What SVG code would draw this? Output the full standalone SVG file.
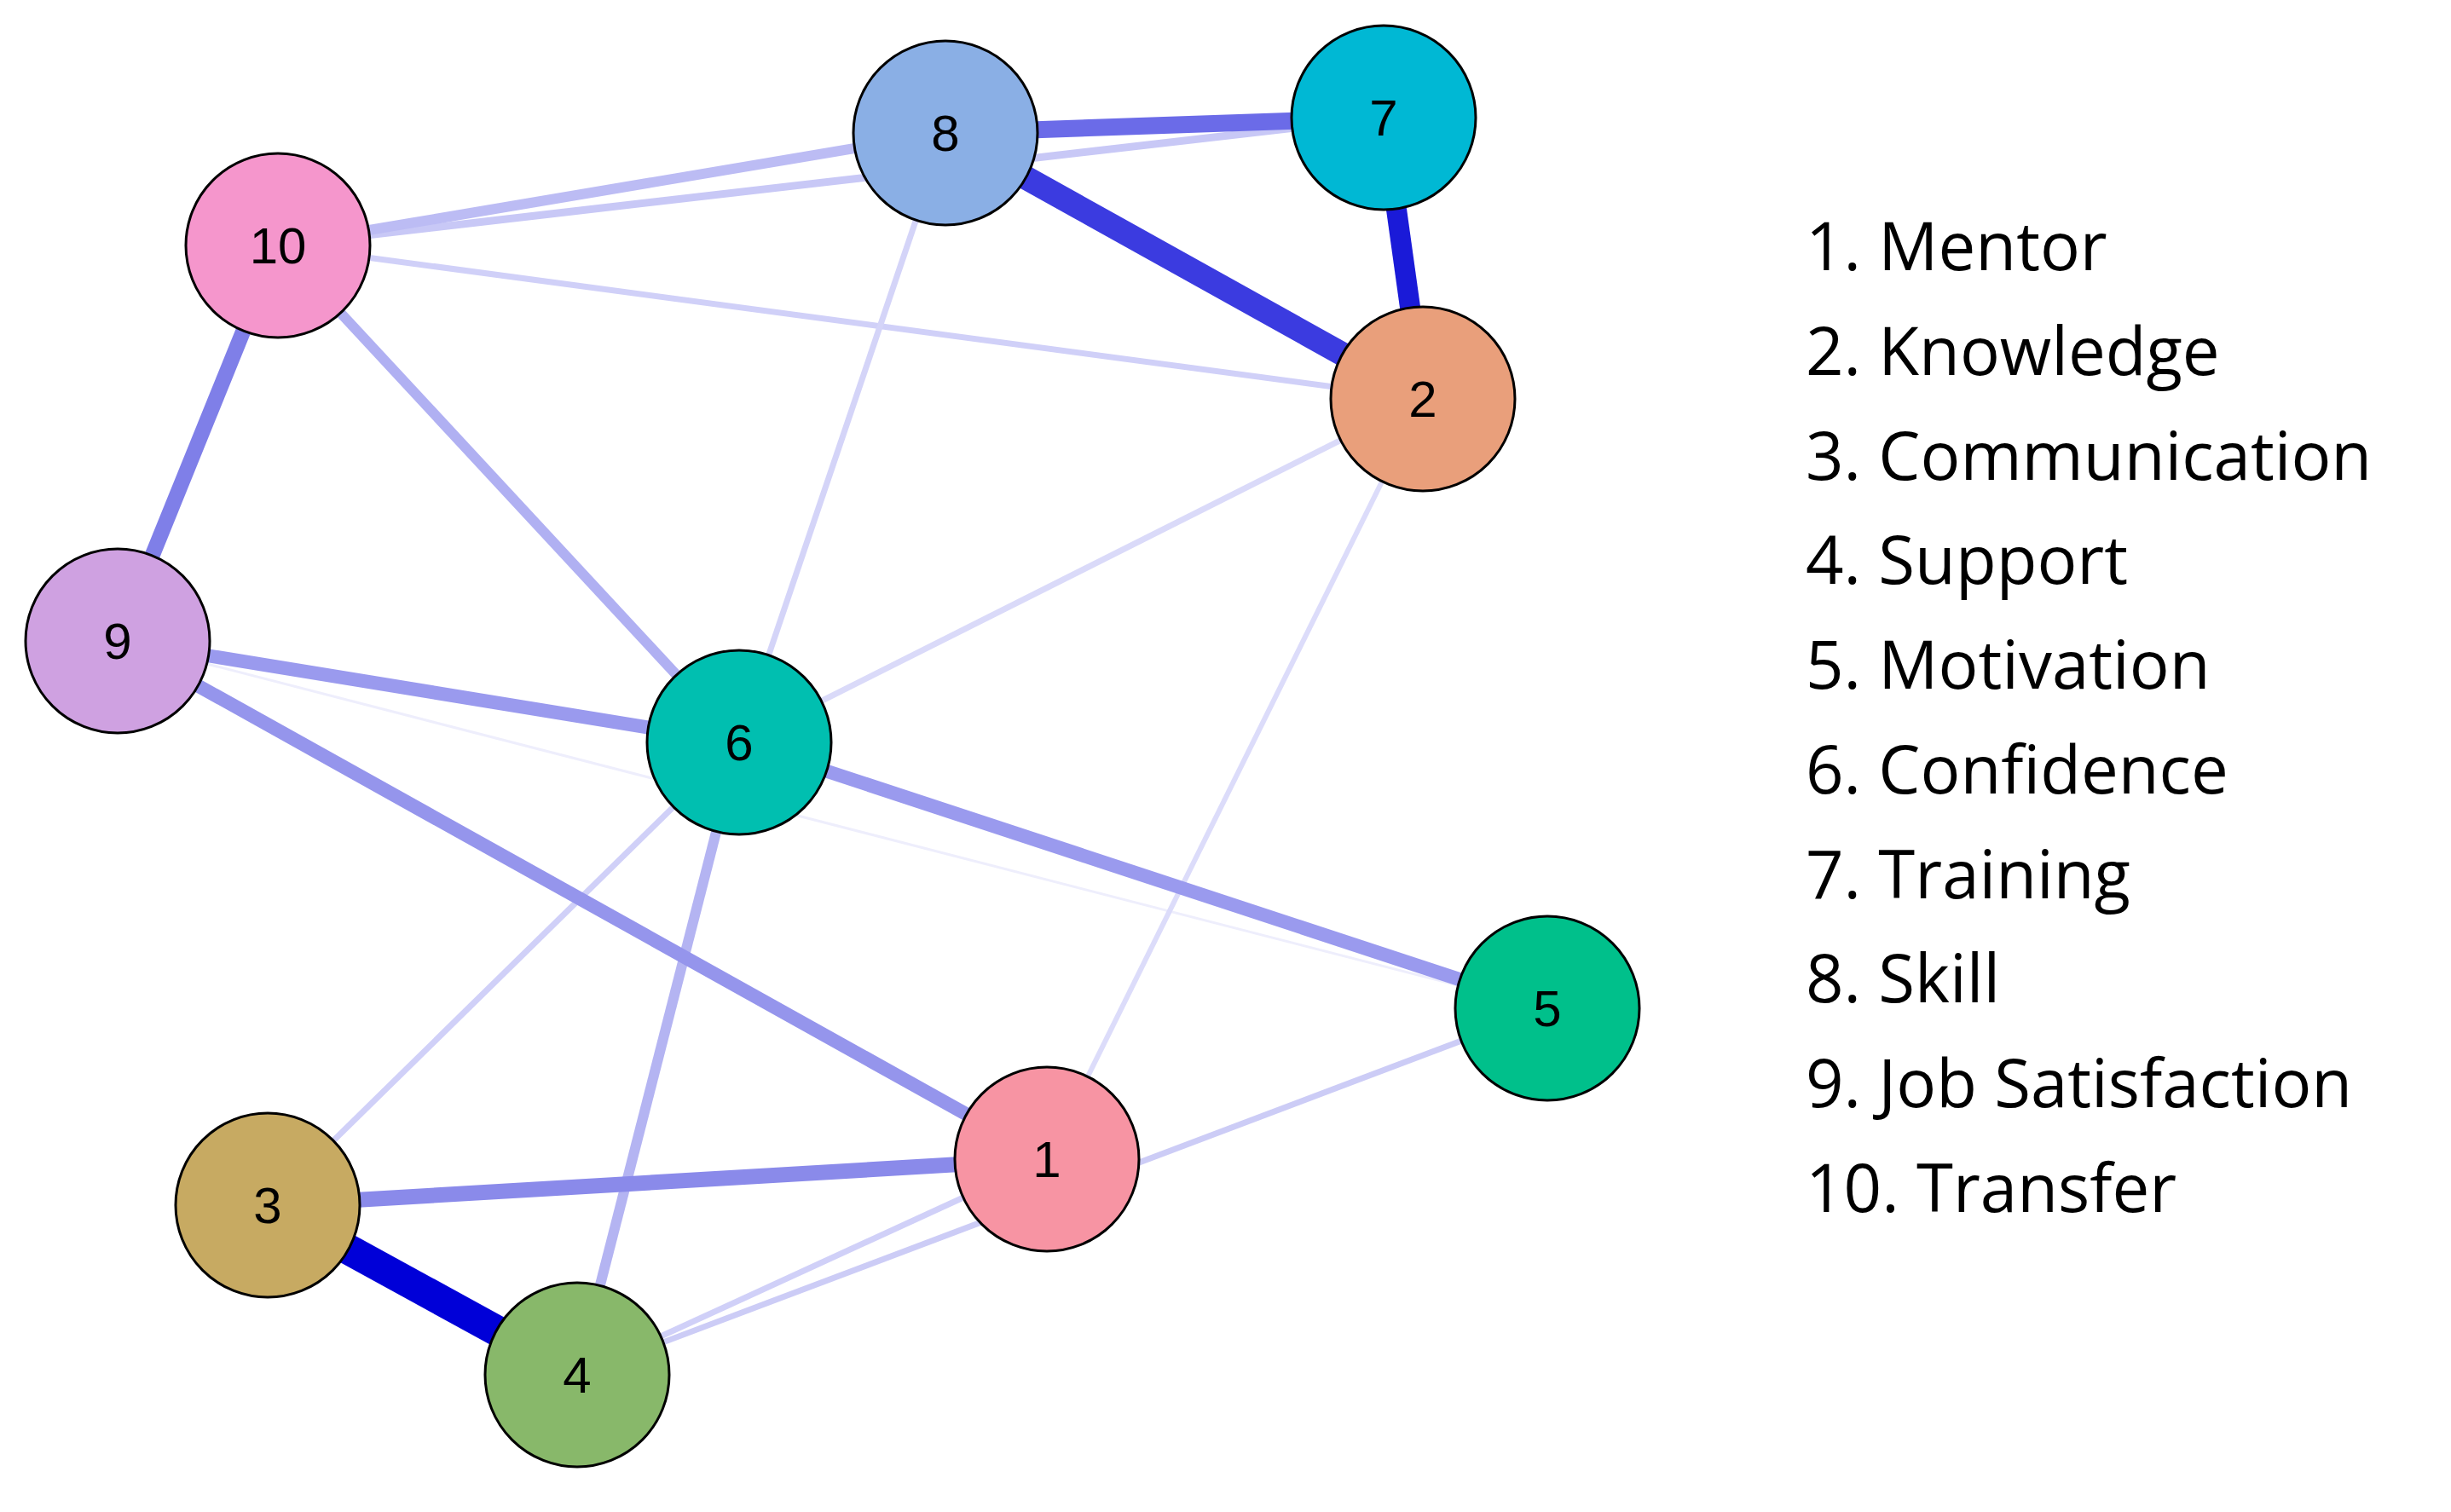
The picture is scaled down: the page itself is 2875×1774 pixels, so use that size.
<svg xmlns="http://www.w3.org/2000/svg" width="2875" height="1774" viewBox="0 0 2875 1774">
<style>
.n circle{stroke:#000;stroke-width:3}
.n text{font-family:"Liberation Sans",Arial,sans-serif;font-size:60px;text-anchor:middle;dominant-baseline:central;fill:#000}
.lg{font-family:"Open Sans","Noto Sans",sans-serif;font-size:78px;fill:#000}
#edges line{stroke-linecap:butt}
</style>
<rect width="2875" height="1774" fill="#fff"/>
<g id="edges">
<line x1="138" y1="752" x2="1815" y2="1183" stroke="#eeeefc" stroke-width="3"/>
<line x1="326" y1="288" x2="1669" y2="468" stroke="#d0d0f8" stroke-width="7"/>
<line x1="326" y1="288" x2="1623" y2="138" stroke="#c8c8f6" stroke-width="9"/>
<line x1="326" y1="288" x2="1109" y2="156" stroke="#bcbcf4" stroke-width="12"/>
<line x1="1109" y1="156" x2="867" y2="871" stroke="#d4d4f8" stroke-width="7"/>
<line x1="867" y1="871" x2="1669" y2="468" stroke="#dadaf9" stroke-width="7"/>
<line x1="1669" y1="468" x2="1228" y2="1360" stroke="#dcdcfa" stroke-width="6"/>
<line x1="867" y1="871" x2="314" y2="1414" stroke="#d0d0f8" stroke-width="7"/>
<line x1="677" y1="1613" x2="1228" y2="1360" stroke="#d0d0f8" stroke-width="7"/>
<line x1="677" y1="1613" x2="1815" y2="1183" stroke="#ccccf6" stroke-width="7"/>
<line x1="326" y1="288" x2="867" y2="871" stroke="#b0b0f2" stroke-width="12"/>
<line x1="867" y1="871" x2="677" y2="1613" stroke="#b4b4f2" stroke-width="12"/>
<line x1="138" y1="752" x2="867" y2="871" stroke="#9a9aee" stroke-width="16"/>
<line x1="138" y1="752" x2="1228" y2="1360" stroke="#9595ec" stroke-width="16"/>
<line x1="867" y1="871" x2="1815" y2="1183" stroke="#9a9aee" stroke-width="16"/>
<line x1="314" y1="1414" x2="1228" y2="1360" stroke="#8a8aea" stroke-width="18"/>
<line x1="326" y1="288" x2="138" y2="752" stroke="#7f7fe8" stroke-width="18"/>
<line x1="1109" y1="156" x2="1623" y2="138" stroke="#6b6be8" stroke-width="20"/>
<line x1="1109" y1="156" x2="1669" y2="468" stroke="#3b3be0" stroke-width="28"/>
<line x1="1623" y1="138" x2="1669" y2="468" stroke="#1a1ad8" stroke-width="24"/>
<line x1="314" y1="1414" x2="677" y2="1613" stroke="#0000d8" stroke-width="36"/>
</g>
<g id="node8" class="n"><circle cx="1109" cy="156" r="108" fill="#8aafe5"/><text x="1109" y="156">8</text></g>
<g id="node7" class="n"><circle cx="1623" cy="138" r="108" fill="#00b8d4"/><text x="1623" y="138">7</text></g>
<g id="node10" class="n"><circle cx="326" cy="288" r="108" fill="#f596cc"/><text x="326" y="288">10</text></g>
<g id="node2" class="n"><circle cx="1669" cy="468" r="108" fill="#e99f7b"/><text x="1669" y="468">2</text></g>
<g id="node9" class="n"><circle cx="138" cy="752" r="108" fill="#cfa1e1"/><text x="138" y="752">9</text></g>
<g id="node6" class="n"><circle cx="867" cy="871" r="108" fill="#00bfb0"/><text x="867" y="871">6</text></g>
<g id="node5" class="n"><circle cx="1815" cy="1183" r="108" fill="#00c08b"/><text x="1815" y="1183">5</text></g>
<g id="node1" class="n"><circle cx="1228" cy="1360" r="108" fill="#f794a3"/><text x="1228" y="1360">1</text></g>
<g id="node3" class="n"><circle cx="314" cy="1414" r="108" fill="#c7aa62"/><text x="314" y="1414">3</text></g>
<g id="node4" class="n"><circle cx="677" cy="1613" r="108" fill="#88b86a"/><text x="677" y="1613">4</text></g>
<g id="legend">
<text class="lg" x="2118" y="317">1. Mentor</text>
<text class="lg" x="2118" y="440">2. Knowledge</text>
<text class="lg" x="2118" y="563">3. Communication</text>
<text class="lg" x="2118" y="685">4. Support</text>
<text class="lg" x="2118" y="808">5. Motivation</text>
<text class="lg" x="2118" y="931">6. Confidence</text>
<text class="lg" x="2118" y="1054">7. Training</text>
<text class="lg" x="2118" y="1176">8. Skill</text>
<text class="lg" x="2118" y="1299">9. Job Satisfaction</text>
<text class="lg" x="2118" y="1422">10. Transfer</text>
</g>
</svg>
